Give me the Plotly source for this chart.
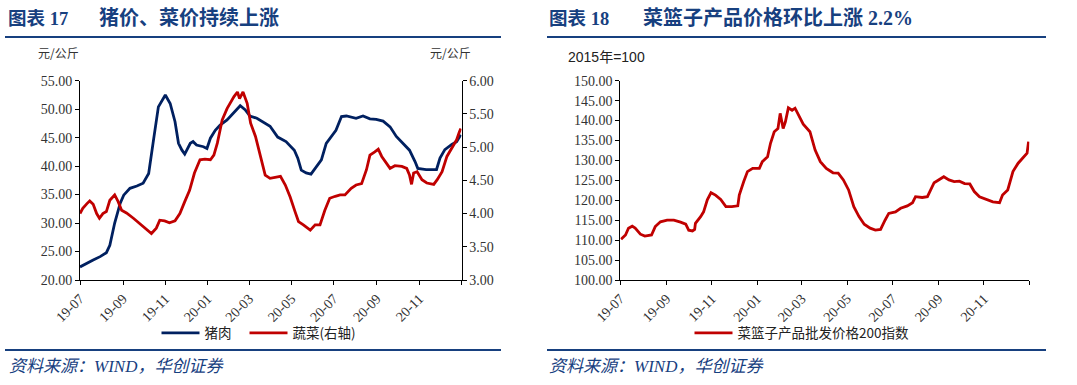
import plotly.graph_objects as go

# ---------------- data: 图表17 ----------------
pork_dates = ["2019-07-01","2019-07-11","2019-07-20","2019-07-30","2019-08-08","2019-08-13","2019-08-20","2019-08-28",
              "2019-09-02","2019-09-11","2019-09-21","2019-09-30","2019-10-08","2019-10-15","2019-10-22","2019-11-01",
              "2019-11-08","2019-11-15","2019-11-20","2019-11-25","2019-11-29","2019-12-07","2019-12-11","2019-12-16",
              "2019-12-26","2019-12-31","2020-01-05","2020-01-12","2020-01-19","2020-01-29","2020-02-07","2020-02-17",
              "2020-02-24","2020-03-02","2020-03-12","2020-03-21","2020-03-31","2020-04-11","2020-04-23","2020-05-05",
              "2020-05-10","2020-05-15","2020-05-22","2020-05-29","2020-06-06","2020-06-13","2020-06-20","2020-06-27",
              "2020-07-04","2020-07-12","2020-07-19","2020-08-02","2020-08-12","2020-08-22","2020-08-31","2020-09-10",
              "2020-09-20","2020-09-29","2020-10-09","2020-10-18","2020-10-26","2020-10-30","2020-11-11","2020-11-26",
              "2020-12-01","2020-12-08","2020-12-18","2020-12-25","2020-12-31"]
pork_values = [22.3,23.0,23.5,24.1,24.8,26.1,30.0,33.5,
               34.9,36.1,36.5,37.0,38.7,44.6,50.4,52.5,
               51.0,47.8,44.0,42.8,42.1,44.0,44.3,43.7,
               43.4,43.1,44.9,46.3,47.2,48.1,49.3,50.6,
               49.9,48.8,48.4,47.8,47.0,45.1,44.3,42.8,
               41.4,39.3,38.8,38.6,40.0,41.1,44.0,45.2,
               46.3,48.7,48.8,48.4,48.8,48.3,48.2,47.9,
               46.9,45.2,44.0,42.8,40.8,39.6,39.4,39.4,
               41.4,42.9,43.8,44.3,45.5]

veg_dates = ["2019-07-01","2019-07-05","2019-07-11","2019-07-15","2019-07-20","2019-07-25","2019-07-29","2019-08-03",
             "2019-08-08","2019-08-13","2019-08-20","2019-08-25","2019-08-30","2019-09-06","2019-09-16","2019-09-25",
             "2019-10-05","2019-10-12","2019-10-19","2019-10-24","2019-10-31","2019-11-07","2019-11-15","2019-11-22",
             "2019-11-29","2019-12-06","2019-12-13","2019-12-21","2019-12-28","2020-01-05","2020-01-10","2020-01-15",
             "2020-01-22","2020-01-29","2020-02-08","2020-02-13","2020-02-16","2020-02-21","2020-02-27","2020-03-03",
             "2020-03-10","2020-03-17","2020-03-24","2020-03-31","2020-04-15","2020-04-22","2020-04-29","2020-05-06",
             "2020-05-11","2020-05-18","2020-05-28","2020-06-04","2020-06-11","2020-06-18","2020-06-25","2020-07-03",
             "2020-07-10","2020-07-17","2020-07-26","2020-08-02","2020-08-10","2020-08-17","2020-08-22","2020-08-29",
             "2020-09-03","2020-09-08","2020-09-15","2020-09-20","2020-09-27","2020-10-07","2020-10-14","2020-10-18",
             "2020-10-21","2020-10-24","2020-10-29","2020-11-05","2020-11-12","2020-11-22","2020-11-27","2020-12-04",
             "2020-12-11","2020-12-18","2020-12-25","2020-12-29","2020-12-31"]
veg_values = [4.00,4.08,4.15,4.19,4.14,4.00,3.93,4.00,
              4.03,4.20,4.28,4.18,4.05,4.01,3.93,3.85,
              3.75,3.70,3.78,3.90,3.89,3.86,3.89,4.00,
              4.18,4.35,4.61,4.81,4.82,4.81,4.88,5.06,
              5.41,5.58,5.76,5.83,5.73,5.83,5.66,5.36,
              5.16,4.86,4.58,4.53,4.56,4.43,4.25,4.03,
              3.88,3.83,3.75,3.83,3.83,4.05,4.23,4.26,
              4.28,4.28,4.38,4.43,4.45,4.66,4.88,4.93,
              4.97,4.86,4.76,4.68,4.72,4.71,4.68,4.58,
              4.44,4.61,4.63,4.51,4.46,4.44,4.51,4.63,
              4.86,4.98,5.11,5.23,5.28]

# ---------------- data: 图表18 ----------------
basket_dates = ["2019-07-02","2019-07-08","2019-07-12","2019-07-17","2019-07-21","2019-07-28","2019-08-03","2019-08-12",
                "2019-08-17","2019-08-24","2019-09-02","2019-09-11","2019-09-20","2019-09-27","2019-10-01","2019-10-06",
                "2019-10-09","2019-10-10","2019-10-17","2019-10-21","2019-10-26","2019-10-31","2019-11-06","2019-11-13",
                "2019-11-20","2019-11-28","2019-12-06","2019-12-08","2019-12-14","2019-12-19","2019-12-26","2020-01-04",
                "2020-01-08","2020-01-15","2020-01-19","2020-01-24","2020-01-29","2020-02-01","2020-02-05","2020-02-08",
                "2020-02-12","2020-02-17","2020-02-21","2020-02-26","2020-03-03","2020-03-12","2020-03-19","2020-03-26",
                "2020-04-03","2020-04-12","2020-04-19","2020-04-26","2020-05-03","2020-05-10","2020-05-17","2020-05-24",
                "2020-06-01","2020-06-08","2020-06-15","2020-06-21","2020-06-26","2020-07-05","2020-07-12","2020-07-21",
                "2020-07-28","2020-08-01","2020-08-10","2020-08-17","2020-08-26","2020-09-01","2020-09-08","2020-09-15",
                "2020-09-22","2020-09-29","2020-10-06","2020-10-13","2020-10-19","2020-10-26","2020-11-04","2020-11-13",
                "2020-11-22","2020-11-26","2020-12-03","2020-12-10","2020-12-17","2020-12-24","2020-12-29","2020-12-31"]
basket_values = [110.2,111.3,113.0,113.5,113.0,111.5,111.0,111.3,
                 113.4,114.6,115.0,115.0,114.5,114.0,112.5,112.3,
                 112.7,114.2,115.9,117.1,120.1,121.9,121.3,120.2,
                 118.4,118.4,118.6,121.3,124.7,127.2,128.0,128.0,
                 129.7,130.9,134.3,137.2,138.0,141.8,138.0,139.7,
                 143.2,142.6,143.1,141.4,139.1,137.2,132.6,129.7,
                 128.0,126.9,126.8,125.1,122.6,118.4,115.9,114.0,
                 113.0,112.5,112.7,115.0,116.7,117.1,118.0,118.6,
                 119.4,120.9,120.7,120.9,124.4,125.1,125.9,125.1,
                 124.7,124.8,124.2,124.1,122.2,120.9,120.2,119.6,
                 119.4,121.3,122.6,127.2,129.3,130.9,131.8,134.7]

x_tickvals = ["2019-07-01","2019-09-01","2019-11-01","2020-01-01","2020-03-01","2020-05-01",
              "2020-07-01","2020-09-01","2020-11-01","2021-01-01"]
x_ticktext = ["19-07","19-09","19-11","20-01","20-03","20-05","20-07","20-09","20-11",""]
x_range = ["2019-07-01","2021-01-01"]

left_ticks = [20,25,30,35,40,45,50,55]
right_ticks = [3.0,3.5,4.0,4.5,5.0,5.5,6.0]
basket_ticks = [100,105,110,115,120,125,130,135,140,145,150]

NAVY = "#002060"
RED = "#C00000"
TITLE_BLUE = "#17407F"
SERIF = "Liberation Serif, Noto Sans CJK SC"
W, H = 1077, 385

def px(x):
    return x / W

def py(y):
    return 1 - y / H

fig = go.Figure()
fig.add_trace(go.Scatter(x=pork_dates, y=pork_values, name="猪肉", mode="lines", legendwidth=35,
                         line=dict(color=NAVY, width=2.8), xaxis="x", yaxis="y", legend="legend"))
fig.add_trace(go.Scatter(x=veg_dates, y=veg_values, name="蔬菜(右轴)", mode="lines",
                         line=dict(color=RED, width=2.8), xaxis="x", yaxis="y2", legend="legend"))
fig.add_trace(go.Scatter(x=basket_dates, y=basket_values, name="菜篮子产品批发价格200指数", mode="lines",
                         line=dict(color=RED, width=2.8), xaxis="x2", yaxis="y3", legend="legend2"))

tickfont = dict(family=SERIF, size=14, color="#333333")
axis_common = dict(showline=True, linecolor="#000000", linewidth=1, ticks="outside", ticklen=4,
                   tickcolor="#000000", showgrid=False, zeroline=False, tickfont=tickfont,
                   automargin=False)

ydom = [py(280), py(80.7)]
legend_font = dict(family="Noto Sans CJK SC", size=13.5, color="#222222")
fig.update_layout(
    width=W, height=H, margin=dict(l=0, r=0, t=0, b=0, autoexpand=False),
    paper_bgcolor="white", plot_bgcolor="white",
    showlegend=True,
    xaxis=dict(domain=[px(80), px(461.5)], anchor="y", type="date", range=x_range,
               tickvals=x_tickvals, ticktext=x_ticktext, tickangle=-45, **axis_common),
    yaxis=dict(domain=ydom, anchor="x", range=[20, 55], tickvals=left_ticks,
               tickformat=".2f", **axis_common),
    yaxis2=dict(domain=ydom, anchor="x", overlaying="y", side="right", range=[3, 6],
                tickvals=right_ticks, tickformat=".2f", **axis_common),
    xaxis2=dict(domain=[px(620.3), px(1029.3)], anchor="y3", type="date", range=x_range,
                tickvals=x_tickvals, ticktext=x_ticktext, tickangle=-45, **axis_common),
    yaxis3=dict(domain=ydom, anchor="x2", range=[100, 150], tickvals=basket_ticks,
                tickformat=".2f", **axis_common),
    legend=dict(orientation="h", x=px(259), y=py(333), xanchor="center", yanchor="middle",
                font=legend_font, itemwidth=38, bgcolor="rgba(0,0,0,0)"),
    legend2=dict(orientation="h", x=px(802), y=py(333), xanchor="center", yanchor="middle",
                 font=legend_font, itemwidth=38, bgcolor="rgba(0,0,0,0)"),
)

# header/footer rules
for x0, x1 in [(5, 501), (547, 1046)]:
    for yy in (37, 350):
        fig.add_shape(type="line", xref="paper", yref="paper", x0=px(x0), x1=px(x1),
                      y0=py(yy), y1=py(yy), line=dict(color=TITLE_BLUE, width=2.2))

ann = []
ann.append(dict(text="<b>图表 17</b>", x=px(6), y=py(18), xanchor="left", yanchor="middle",
                font=dict(family=SERIF, size=18.5, color=TITLE_BLUE)))
ann.append(dict(text="<b>猪价、菜价持续上涨</b>", x=px(97), y=py(18), xanchor="left", yanchor="middle",
                font=dict(family=SERIF, size=20, color=TITLE_BLUE)))
ann.append(dict(text="<b>图表 18</b>", x=px(547), y=py(18), xanchor="left", yanchor="middle",
                font=dict(family=SERIF, size=18.5, color=TITLE_BLUE)))
ann.append(dict(text="<b>菜篮子产品价格环比上涨 2.2%</b>", x=px(641), y=py(18), xanchor="left",
                yanchor="middle", font=dict(family=SERIF, size=20, color=TITLE_BLUE)))
ann.append(dict(text="元/公斤", x=px(36), y=py(53), xanchor="left", yanchor="middle",
                font=dict(family="Noto Sans CJK SC", size=12, color="#333333")))
ann.append(dict(text="元/公斤", x=px(428), y=py(53), xanchor="left", yanchor="middle",
                font=dict(family="Noto Sans CJK SC", size=12, color="#333333")))
ann.append(dict(text="2015年=100", x=px(566), y=py(57), xanchor="left", yanchor="middle",
                font=dict(family="Liberation Sans, Noto Sans CJK SC", size=14, color="#222222")))
for xs in (7, 547):
    ann.append(dict(text="<i>资料来源：WIND，华创证券</i>", x=px(xs), y=py(366), xanchor="left",
                    yanchor="middle", font=dict(family=SERIF, size=17, color=TITLE_BLUE)))
for a in ann:
    a.update(xref="paper", yref="paper", showarrow=False)
fig.update_layout(annotations=ann)

fig.write_html("out.html", config={"displayModeBar": False},
               post_script="document.body.style.margin='0';")
